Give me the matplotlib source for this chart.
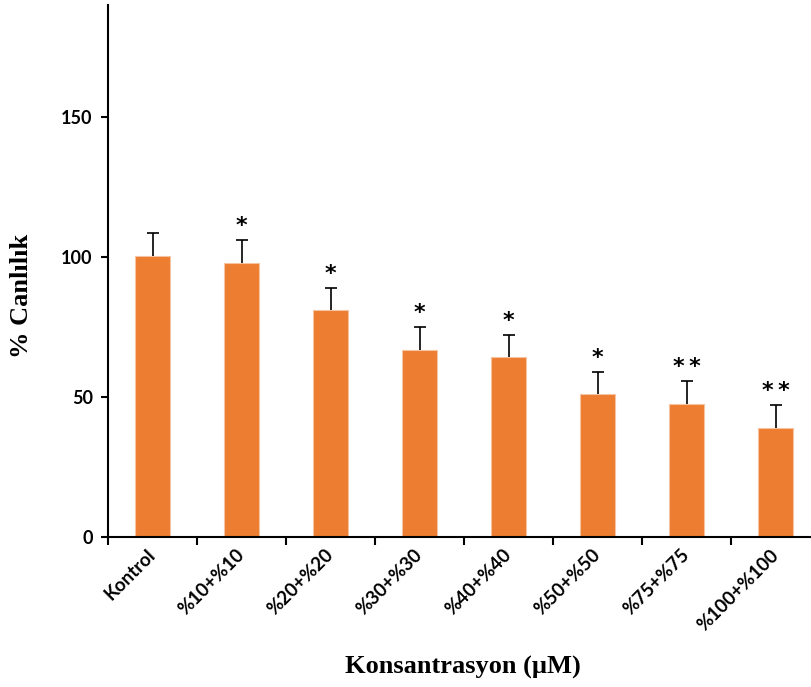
import matplotlib
matplotlib.use("Agg")
import matplotlib.pyplot as plt
import numpy as np

ORANGE = "#ED7D31"
EDGE = "#F6C3A0"

categories = ["Kontrol", "%10+%10", "%20+%20", "%30+%30", "%40+%40",
              "%50+%50", "%75+%75", "%100+%100"]
viability = [100.4, 98.0, 81.0, 66.7, 64.2, 51.0, 47.6, 38.9]
sd = [8.2, 8.2, 8.1, 8.2, 7.8, 7.8, 8.1, 8.2]
stars = ["", "*", "*", "*", "*", "*", "*\u2009*", "*\u2009*"]

fig = plt.figure(figsize=(8.11, 6.87), dpi=100)
ax = fig.add_axes([108/811, 1 - 537/687, 1 - 108/811, (537 - 5)/687])

x = np.arange(len(categories))
ax.bar(x, viability, width=0.40, color=ORANGE, edgecolor=EDGE,
       linewidth=0.8, zorder=2)
eb = ax.errorbar(x, viability, yerr=[np.zeros(len(sd)), sd], fmt="none",
                 ecolor="black", elinewidth=1.2, capsize=4.3, capthick=1.2,
                 zorder=3)
eb[1][0].set_visible(False)  # hide lower caps

for xi, v, e, s in zip(x, viability, sd, stars):
    if s:
        ax.text(xi, v + e + 5.0, s, ha="center", va="center",
                fontsize=16, fontweight="bold", family="DejaVu Sans")

ax.set_xlim(-0.5, -0.5 + (811 - 108) / 89)
ax.set_ylim(0, 190)
ax.set_yticks([0, 50, 100, 150])
ax.set_yticklabels(["0", "50", "100", "150"], fontsize=13,
                   fontweight="bold", family="Lato")
ax.set_xticks(x)
ax.set_xticklabels(categories, rotation=45, ha="right", va="center",
                   rotation_mode="anchor", fontsize=13.5, fontweight="bold",
                   family="Lato")
ax.set_xticks(np.arange(len(categories)) - 0.5, minor=True)
ax.tick_params(axis="x", which="major", length=0, pad=11)
ax.tick_params(axis="x", which="minor", length=6, width=1.5, direction="out")
ax.tick_params(axis="y", length=5, width=1.5, direction="out", pad=6)

for side in ["top", "right"]:
    ax.spines[side].set_visible(False)
for side in ["left", "bottom"]:
    ax.spines[side].set_linewidth(1.5)

fig.text(22/811, 1 - 296/687, "% Canlılık", rotation=90, ha="center",
         va="center", fontsize=19, fontweight="bold", family="Liberation Serif")
fig.text(463/811, 1 - 667/687, "Konsantrasyon (µM)", ha="center",
         va="center", fontsize=19, fontweight="bold", family="Liberation Serif")

fig.savefig("out.png", dpi=100, facecolor="white")
